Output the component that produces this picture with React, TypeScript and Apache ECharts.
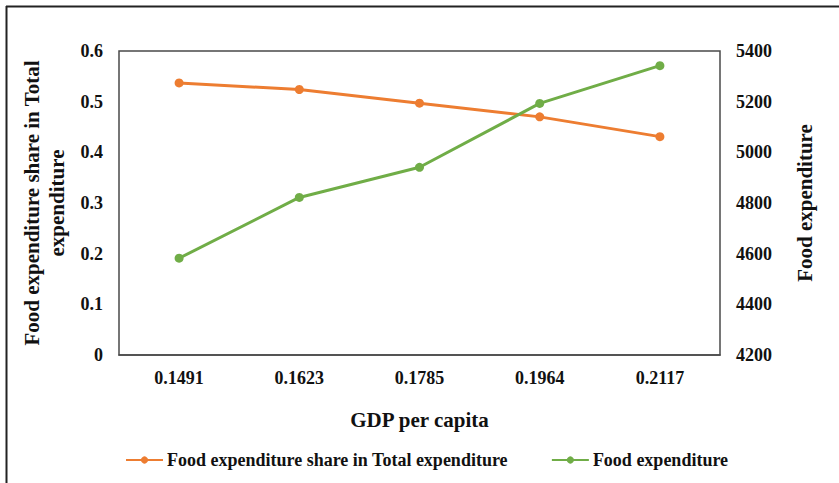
import React, { useEffect, useRef } from "react";
import * as echarts from "echarts";

const categories = ["0.1491", "0.1623", "0.1785", "0.1964", "0.2117"];
const shareValues = [0.537, 0.524, 0.497, 0.47, 0.431];
const expenditureValues = [4582, 4822, 4941, 5193, 5342];
const shareName = "Food expenditure share in Total expenditure";
const expName = "Food expenditure";

const FONT = "'Liberation Serif', 'Times New Roman', serif";

export default function App() {
  const ref = useRef<HTMLDivElement>(null);
  useEffect(() => {
    document.body.style.margin = "0";
    const chart = echarts.init(ref.current!, null, { renderer: "svg" });
    const tickLabel = { fontFamily: FONT, fontWeight: "bold" as const, fontSize: 18, color: "#111" };
    chart.setOption({
      animation: false,
      backgroundColor: "#fff",
      grid: {
        left: 119,
        right: 119,
        top: 51,
        bottom: 128,
        show: true,
        borderColor: "#4a4a4a",
        borderWidth: 1.5,
        containLabel: false,
      },
      graphic: [
        { type: "line", shape: { x1: 6.5, y1: 6, x2: 6.5, y2: 483 }, style: { stroke: "#222", lineWidth: 2 } },
        { type: "line", shape: { x1: 6, y1: 6.5, x2: 839, y2: 6.5 }, style: { stroke: "#222", lineWidth: 2 } },
      ],
      legend: {
        top: 446,
        left: 120,
        itemGap: 43,
        itemWidth: 37,
        itemHeight: 9,
        textStyle: { fontFamily: FONT, fontWeight: "bold", fontSize: 18, color: "#111", padding: [0, 0, 0, -1] },
        data: [shareName, expName],
      },
      xAxis: {
        type: "category",
        data: categories,
        boundaryGap: true,
        axisLine: { show: true, lineStyle: { color: "#4a4a4a", width: 1.5 } },
        axisTick: { show: false },
        axisLabel: { ...tickLabel, margin: 14 },
        name: "GDP per capita",
        nameLocation: "middle",
        nameGap: 54,
        nameTextStyle: { fontFamily: FONT, fontWeight: "bold", fontSize: 21, color: "#111" },
      },
      yAxis: [
        {
          type: "value",
          min: 0,
          max: 0.6,
          interval: 0.1,
          position: "left",
          axisLine: { show: false },
          axisTick: { show: false },
          splitLine: { show: false },
          axisLabel: { ...tickLabel, margin: 16, formatter: (v: number) => (v === 0 ? "0" : v.toFixed(1)) },
          name: "Food expenditure share in Total\nexpenditure",
          nameLocation: "middle",
          nameGap: 46,
          nameRotate: 90,
          nameTextStyle: { fontFamily: FONT, fontWeight: "bold", fontSize: 21, color: "#111", lineHeight: 25 },
        },
        {
          type: "value",
          min: 4200,
          max: 5400,
          interval: 200,
          position: "right",
          axisLine: { show: false },
          axisTick: { show: false },
          splitLine: { show: false },
          axisLabel: { ...tickLabel, margin: 16, formatter: (v: number) => String(v) },
          name: "Food expenditure",
          nameLocation: "middle",
          nameGap: 74,
          nameRotate: 90,
          nameTextStyle: { fontFamily: FONT, fontWeight: "bold", fontSize: 21, color: "#111" },
        },
      ],
      series: [
        {
          name: shareName,
          type: "line",
          yAxisIndex: 0,
          data: shareValues,
          symbol: "circle",
          symbolSize: 9,
          lineStyle: { color: "#ed7d31", width: 3 },
          itemStyle: { color: "#ed7d31" },
        },
        {
          name: expName,
          type: "line",
          yAxisIndex: 1,
          data: expenditureValues,
          symbol: "circle",
          symbolSize: 9,
          lineStyle: { color: "#70ad47", width: 3 },
          itemStyle: { color: "#70ad47" },
        },
      ],
    });
    return () => chart.dispose();
  }, []);
  return <div ref={ref} style={{ position: "absolute", left: 0, top: 0, width: 839, height: 483 }} />;
}
